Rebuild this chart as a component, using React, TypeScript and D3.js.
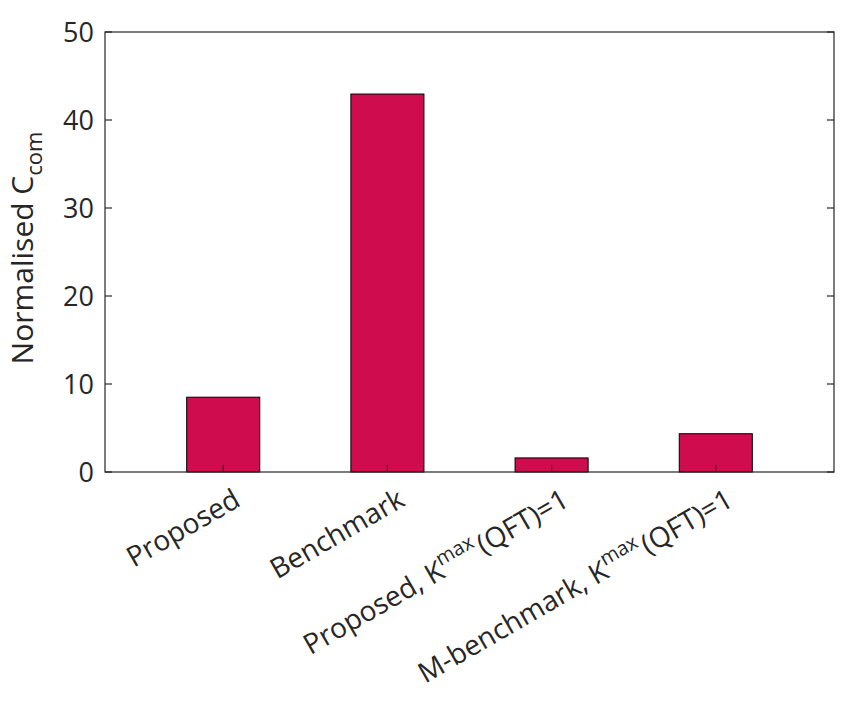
import React, { useEffect, useRef } from 'react';
import * as d3 from 'd3';

// bar data
const categories = ['Proposed', 'Benchmark', 'Proposed, K^max(QFT)=1', 'M-benchmark, K^max(QFT)=1'];
const values = [8.5, 42.95, 1.6, 4.35];
const yTicks = [0, 10, 20, 30, 40, 50];

const svgWidth = 851;
const svgHeight = 702;
const margin = { top: 32, right: 17, bottom: 230, left: 105 };
const FONT = '"Open Sans", sans-serif';
const TEXT = '#262626';

const App = () => {
  const ref = useRef<SVGSVGElement>(null);

  useEffect(() => {
    const svg = d3.select(ref.current);
    svg.selectAll('*').remove();

    const width = svgWidth - margin.left - margin.right;
    const height = svgHeight - margin.top - margin.bottom;

    const g = svg.append('g').attr('transform', `translate(${margin.left},${margin.top})`);

    // MATLAB-like x limits around bar positions 1..4
    const xScale = d3.scaleLinear().domain([0.28, 4.72]).range([0, width]);
    const yScale = d3.scaleLinear().domain([0, 50]).range([height, 0]);
    const barW = xScale(1.445) - xScale(1);

    // bars
    g.selectAll('rect.bar')
      .data(values)
      .enter()
      .append('rect')
      .attr('class', 'bar')
      .attr('x', (d, i) => xScale(i + 1) - barW / 2)
      .attr('y', d => yScale(d))
      .attr('width', barW)
      .attr('height', d => yScale(0) - yScale(d))
      .attr('fill', '#cf0c4d')
      .attr('stroke', '#000')
      .attr('stroke-width', 1);

    // box
    g.append('rect')
      .attr('x', 0).attr('y', 0)
      .attr('width', width).attr('height', height)
      .attr('fill', 'none')
      .attr('stroke', '#262626')
      .attr('stroke-width', 1.2);

    // y ticks, inside on both sides
    yTicks.forEach(t => {
      const y = yScale(t);
      g.append('line').attr('x1', 0).attr('x2', 7).attr('y1', y).attr('y2', y)
        .attr('stroke', '#262626').attr('stroke-width', 1.2);
      g.append('line').attr('x1', width - 7).attr('x2', width).attr('y1', y).attr('y2', y)
        .attr('stroke', '#262626').attr('stroke-width', 1.2);
      g.append('text')
        .attr('x', -11)
        .attr('y', y)
        .attr('dy', '0.36em')
        .attr('text-anchor', 'end')
        .attr('font-family', FONT)
        .attr('font-size', 27)
        .attr('fill', TEXT)
        .text(t);
    });

    // x ticks and rotated labels
    categories.forEach((c, i) => {
      const x = xScale(i + 1);
      g.append('line').attr('x1', x).attr('x2', x).attr('y1', height).attr('y2', height - 7)
        .attr('stroke', '#262626').attr('stroke-width', 1.2);
      const txt = g.append('text')
        .attr('transform', `translate(${x + 19},${height + 33}) rotate(-30)`)
        .attr('text-anchor', 'end')
        .attr('font-family', FONT)
        .attr('font-size', 28)
        .attr('fill', TEXT);
      const parts = c.split('^max');
      if (parts.length === 1) {
        txt.text(c);
      } else {
        txt.append('tspan').text(parts[0]);
        txt.append('tspan').attr('dy', -12).attr('font-size', 20).text('max');
        txt.append('tspan').attr('dy', 12).attr('dx', 3).text(parts[1]);
      }
    });

    // y axis label
    const yl = g.append('text')
      .attr('transform', `translate(${-72},${height / 2 - 4}) rotate(-90)`)
      .attr('text-anchor', 'middle')
      .attr('font-family', FONT)
      .attr('font-size', 30)
      .attr('fill', TEXT);
    yl.append('tspan').text('Normalised C');
    yl.append('tspan').attr('dy', 9).attr('font-size', 22).text('com');
  }, []);

  return (
    <svg
      ref={ref}
      width={svgWidth}
      height={svgHeight}
      style={{ position: 'absolute', left: 0, top: 0, background: '#fff' }}
    />
  );
};

export default App;
